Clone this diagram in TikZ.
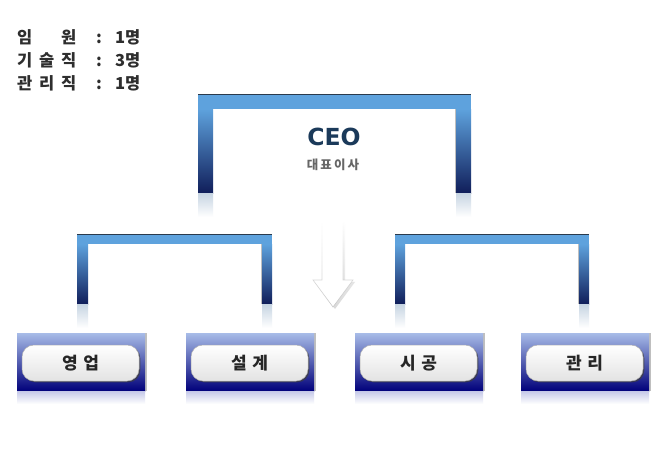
\documentclass[tikz,border=0pt]{standalone}
\usepackage{fontspec}
\setmainfont{Noto Sans CJK KR}
\newfontfamily\ceofont{DejaVu Sans}
\usetikzlibrary{fadings,shadows}
\definecolor{barblue}{HTML}{5EA2DD}
\definecolor{legnavy}{HTML}{101E5A}
\definecolor{barline}{HTML}{2A3A4C}
\definecolor{refl}{HTML}{C6D4E2}
\definecolor{boxtop}{HTML}{A8BCE8}
\definecolor{boxmid}{HTML}{2E46BC}
\definecolor{boxbot}{HTML}{00007A}
\definecolor{reflbox}{HTML}{C4C8E8}
\definecolor{ceoblue}{HTML}{1B3A5A}
\definecolor{infotext}{HTML}{2E2E2E}
\newcommand{\orgbracket}[7]{%
  \fill[barblue] (#1,#5) rectangle (#4,#6);
  \draw[barline,line width=1pt] (#1,#5) -- (#4,#5);
  \shade[top color=barblue,bottom color=legnavy] (#1,#6) rectangle (#2,#7);
  \shade[top color=barblue,bottom color=legnavy] (#3,#6) rectangle (#4,#7);
  \fill[black,opacity=0.25] (#3-1.5,#6) rectangle (#3,#7);
  \shade[top color=refl,bottom color=white] (#1,#7) rectangle (#2,#7+24);
  \shade[top color=refl,bottom color=white] (#3,#7) rectangle (#4,#7+24);
}
\tikzset{
  info/.style={anchor=west,inner sep=0pt,text=infotext,font=\bfseries\fontsize{16.5}{18}\selectfont},
  deptbox/.style={minimum width=128pt,minimum height=58pt,inner sep=0pt,draw=none,
    top color=boxtop,middle color=boxmid,bottom color=boxbot,
    drop shadow={shadow xshift=1.5pt,shadow yshift=0pt,opacity=0.5,fill=gray}},
  deptpill/.style={minimum width=117pt,minimum height=36pt,inner sep=0pt,rounded corners=12pt,
    top color=white,middle color=white,bottom color=gray!22,draw=gray!60,line width=0.5pt,
    text=black!85,font=\bfseries\fontsize{17}{19}\selectfont,
    drop shadow={shadow xshift=1.3pt,shadow yshift=-1.3pt,opacity=0.75,fill=black!75}},
}
\newcommand{\cw}[2]{\makebox[#1pt][l]{#2}}
\begin{document}
\begin{tikzpicture}[x=1pt,y=-1pt]
\useasboundingbox (0,0) rectangle (667,469);
\fill[white] (0,0) rectangle (667,469);
% info text
\node[info] (info1) at (17,37) {\cw{44}{임}\cw{35}{원}\cw{19}{:}1명};
\node[info] (info2) at (17,60) {\cw{22}{기}\cw{22}{술}\cw{35}{직}\cw{19}{:}3명};
\node[info] (info3) at (17,83) {\cw{22}{관}\cw{22}{리}\cw{35}{직}\cw{19}{:}1명};
% brackets
\orgbracket{198}{213}{456}{471}{94}{109}{193}
\orgbracket{77}{88}{262}{272}{234}{244}{304}
\orgbracket{395}{405}{579}{589}{234}{244}{304}
% CEO
\node[inner sep=0pt,text=ceoblue,font=\ceofont\bfseries\fontsize{23.5}{25}\selectfont] (ceo) at (334,137) {CEO};
\node[inner sep=0pt,text=black!60,font=\bfseries\fontsize{12.5}{14}\selectfont] (ceotitle) at (333,165) {대\,표\,이\,사};
% arrow
\fill[gray!30,path fading=north] (324,222) -- (345,222) -- (345,282) -- (355,282) -- (335,309) -- (315,282) -- (324,282) -- cycle;
\fill[white] (322,222) -- (343,222) -- (343,280) -- (353,280) -- (333,307) -- (313,280) -- (322,280) -- cycle;
\draw[gray!45,line width=0.6pt,path fading=north] (322,222) -- (322,280) -- (313,280) -- (333,307) -- (353,280) -- (343,280) -- (343,222);
% department boxes
\foreach \cx/\nm/\lbl in {81/sales/{영\,\,업},250/design/{설\,\,계},419/build/{시\,\,공},585/admin/{관\,\,리}}{
  \node[deptbox] (\nm) at (\cx,362) {};
  \shade[top color=reflbox,bottom color=white] (\cx-64,391) rectangle (\cx+64,404);
  \node[deptpill] (\nm pill) at (\cx-0.5,363) {\lbl};
}
\end{tikzpicture}
\end{document}
